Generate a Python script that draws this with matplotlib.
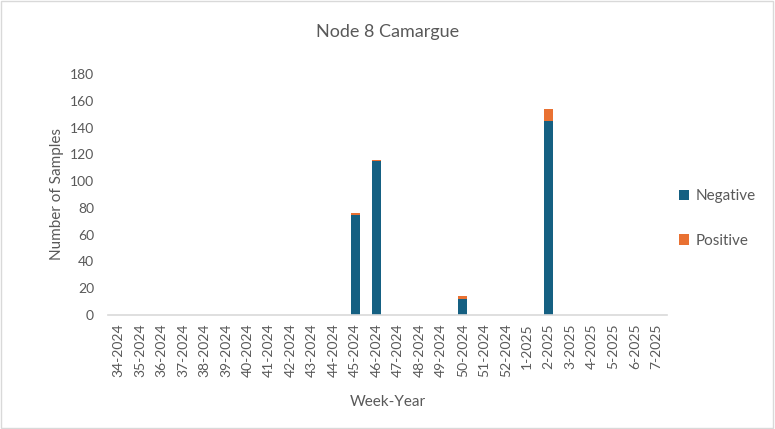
import matplotlib.pyplot as plt
import numpy as np
from matplotlib.patches import Rectangle

plt.rcParams['font.family'] = ['Lato', 'DejaVu Sans']

weeks = [f"{w}-2024" for w in range(34, 53)] + [f"{w}-2025" for w in range(1, 8)]
negative = [0] * 26
positive = [0] * 26
negative[weeks.index("45-2024")] = 75
positive[weeks.index("45-2024")] = 1
negative[weeks.index("46-2024")] = 115
positive[weeks.index("46-2024")] = 1
negative[weeks.index("50-2024")] = 12
positive[weeks.index("50-2024")] = 2
negative[weeks.index("2-2025")] = 145
positive[weeks.index("2-2025")] = 9

blue = '#156082'
orange = '#E97132'
text_col = '#595959'

fig = plt.figure(figsize=(7.75, 4.29), dpi=100)
ax = fig.add_axes([108 / 775, 1 - 315 / 429, (667 - 108) / 775, (315 - 74) / 429])

x = np.arange(len(weeks))
ax.bar(x, negative, width=0.42, color=blue, label='Negative')
ax.bar(x, positive, width=0.42, bottom=negative, color=orange, label='Positive')

ax.set_xlim(-0.5, len(weeks) - 0.5)
ax.set_ylim(0, 180)
ax.set_yticks(range(0, 181, 20))
ax.set_xticks(x)
ax.set_xticklabels(weeks, rotation=90)
ax.tick_params(axis='both', length=0, colors=text_col, labelsize=10)
ax.tick_params(axis='x', pad=6)
ax.tick_params(axis='y', pad=10)
for s in ['top', 'right', 'left']:
    ax.spines[s].set_visible(False)
ax.spines['bottom'].set_color('#d9d9d9')
ax.spines['bottom'].set_linewidth(1.2)

ax.set_xlabel('Week-Year', fontsize=11, color=text_col, labelpad=13)
ax.set_ylabel('Number of Samples', fontsize=11, color=text_col)
fig.text(0.5, 1 - 32 / 429, 'Node 8 Camargue', ha='center', va='center',
         fontsize=13, color=text_col)

ax.legend(loc='center left', bbox_to_anchor=(1.0, 0.40), frameon=False,
          fontsize=11, labelcolor=text_col, handlelength=0.65, handleheight=0.65,
          labelspacing=2.0, handletextpad=0.45, borderaxespad=0.4)

fig.patches.append(Rectangle((0.001, 0.002), 0.997, 0.995, transform=fig.transFigure,
                             fill=False, edgecolor='#d9d9d9', linewidth=1))

fig.savefig('out.png', dpi=100)
